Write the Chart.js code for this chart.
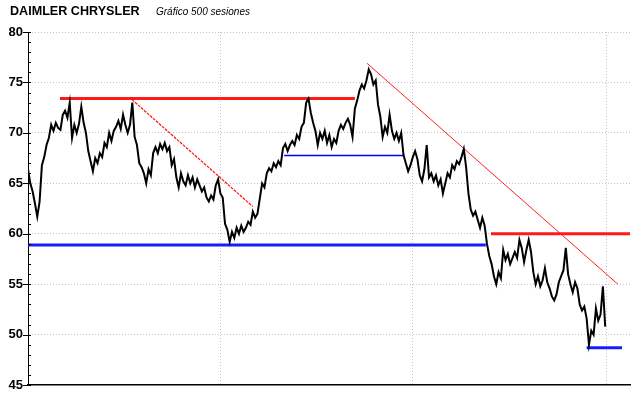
<!DOCTYPE html>
<html>
<head>
<meta charset="utf-8">
<title>Daimler Chrysler</title>
<script src="https://cdn.jsdelivr.net/npm/chart.js@4"></script>
<style>
  body { margin: 0; background: #fff; }
  #wrap { position: relative; width: 640px; height: 398px; }
  #wrap canvas { position: absolute; left: 0; top: 0; }
  .title { position: absolute; left: 10px; top: 4px; line-height: 13px; font: bold 12.6px "Liberation Sans", Arial, sans-serif; color: #000; z-index: 2; }
  .sub { position: absolute; left: 156px; top: 6px; line-height: 10px; font: italic 10px "Liberation Sans", Arial, sans-serif; color: #000; z-index: 2; }
</style>
</head>
<body>
<div id="wrap">
  <div class="title">DAIMLER CHRYSLER</div>
  <div class="sub">Gráfico 500 sesiones</div>
  <canvas id="myChart" width="640" height="398"></canvas>
</div>
<script>
"use strict";

// one value every 2 sessions (500 sessions)
const sessionStep = 2;
const prices = [
  66.4, 65.0, 64.2, 63.0, 61.7, 63.2, 66.8, 67.6, 68.8, 69.5,
  70.8, 70.2, 71.0, 70.5, 70.3, 71.8, 72.2, 71.5, 73.0, 69.5,
  70.8, 70.0, 70.9, 72.6, 71.0, 70.0, 68.2, 67.2, 66.2, 67.5,
  67.0, 68.0, 67.6, 69.0, 68.6, 70.0, 69.2, 70.2, 70.6, 71.2,
  70.4, 71.8, 70.8, 70.0, 70.8, 73.0, 69.6, 68.8, 67.0, 66.6,
  66.0, 65.0, 66.4, 65.8, 68.0, 68.6, 68.0, 68.9, 68.4, 69.0,
  68.2, 68.6, 66.8, 67.4, 65.6, 64.6, 66.0, 65.2, 64.8, 65.8,
  65.0, 65.6, 64.6, 65.4, 64.8, 64.2, 64.6, 63.6, 63.2, 63.8,
  63.4, 64.8, 65.4, 64.0, 63.6, 61.0, 60.4, 59.2, 60.2, 59.6,
  60.6, 60.0, 60.8, 60.2, 60.6, 61.2, 60.9, 62.2, 61.6, 62.0,
  63.5, 65.0, 64.6, 66.0, 66.5, 66.2, 67.0, 66.6, 67.2, 66.8,
  68.5, 68.9, 68.2, 68.8, 69.2, 68.8, 69.8, 69.4, 70.6, 71.0,
  73.0, 73.4, 72.0, 71.0, 70.2, 68.8, 70.0, 69.4, 70.2, 69.0,
  69.8, 68.6, 69.4, 69.0, 70.2, 70.8, 70.4, 71.0, 71.4, 70.8,
  69.6, 72.4, 73.2, 74.2, 74.8, 74.4, 75.2, 76.3, 75.8, 74.8,
  75.2, 72.8, 71.6, 69.6, 70.6, 70.0, 71.8, 70.2, 69.4, 70.0,
  69.2, 70.0, 67.8, 67.0, 66.2, 66.8, 67.6, 68.2, 67.4, 65.8,
  65.2, 66.4, 68.8, 65.6, 66.0, 65.2, 65.8, 64.8, 65.4, 64.0,
  65.0, 66.0, 65.6, 66.8, 66.4, 67.2, 66.9, 67.6, 68.4, 66.6,
  64.0, 62.4, 61.8, 62.2, 61.4, 60.6, 61.6, 60.8, 59.0, 57.8,
  57.0, 55.8, 55.0, 56.2, 55.6, 58.4, 57.4, 58.0, 57.0, 57.6,
  58.2, 57.6, 59.4, 58.6, 57.2, 58.4, 59.4, 58.2, 56.2, 55.0,
  55.8, 54.8, 55.4, 56.6, 55.2, 54.6, 53.8, 53.4, 54.0, 55.2,
  55.8, 56.4, 58.6, 56.0, 55.0, 54.2, 55.2, 54.6, 53.0, 52.4,
  52.8, 51.6, 49.0, 50.4, 50.0, 52.6, 51.4, 52.0, 54.8, 50.8,
];

const yTicks = [45, 50, 55, 60, 65, 70, 75, 80];
const gridSessions = [166.5, 332, 499.5];

// trend lines: [[session, value], [session, value]]
const redThickLines = [
  [[27.6, 73.4], [282, 73.4]],
  [[399.5, 60.0], [519.4, 60.0]],
];
const redDashLine = [[89.7, 73.3], [194, 62.7]];
const redTrendLine = [[292.5, 76.9], [509, 55.0]];
const blueThickLines = [
  [[0, 58.9], [395, 58.9]],
  [[482, 48.7], [512.5, 48.7]],
];
const blueThinLine = [[221, 67.75], [323.6, 67.75]];

function toPoints(line) {
  return line.map((p) => ({ x: p[0], y: p[1] }));
}

function lineDataset(line, color, width, dash) {
  return {
    type: "line",
    data: toPoints(line),
    borderColor: color,
    borderWidth: width,
    borderDash: dash || [],
    pointRadius: 0,
    tension: 0,
  };
}

const priceData = prices.map((v, i) => ({ x: i * sessionStep, y: v }));

const datasets = [
  {
    type: "line",
    data: priceData,
    borderColor: "#000",
    borderWidth: 2,
    borderJoinStyle: "miter",
    pointRadius: 0,
    tension: 0,
  },
  lineDataset(redDashLine, "#ff1010", 1.2, [3, 1]),
  lineDataset(redTrendLine, "#ff2020", 1),
  lineDataset(blueThinLine, "#0000ff", 1.5),
];
for (const l of redThickLines) datasets.push(lineDataset(l, "#ff1a1a", 3));
for (const l of blueThickLines) datasets.push(lineDataset(l, "#1a1aff", 3));

// small tick marks on the value axis (every unit, longer at labels)
const tickMarks = {
  id: "tickMarks",
  afterDraw(chart) {
    const { ctx, chartArea, scales } = chart;
    const y = scales.y;
    ctx.save();
    ctx.strokeStyle = "#000";
    ctx.lineWidth = 1;
    for (let v = yTicks[0]; v <= yTicks[yTicks.length - 1]; v++) {
      const py = Math.round(y.getPixelForValue(v)) + 0.5;
      ctx.beginPath();
      ctx.moveTo(chartArea.left - (v % 5 === 0 ? 5 : 0), py);
      ctx.lineTo(chartArea.left + 3, py);
      ctx.stroke();
    }
    ctx.restore();
  },
};

const gridColor = "rgba(200,190,205,1)";

new Chart("myChart", {
  type: "line",
  data: { datasets: datasets },
  plugins: [tickMarks],
  options: {
    responsive: false,
    animation: false,
    events: [],
    layout: { padding: { top: 32, right: 10, bottom: 11, left: 0 } },
    plugins: { legend: { display: false }, tooltip: { enabled: false } },
    scales: {
      x: {
        type: "linear",
        min: 0,
        max: 519.4,
        afterBuildTicks: (scale) => {
          scale.ticks = gridSessions.map((v) => ({ value: v }));
        },
        afterFit: (scale) => {
          scale.height = 0;
        },
        ticks: { display: false },
        grid: { color: gridColor, lineWidth: 1, drawTicks: false },
        border: { color: "#000", width: 1.5, dash: [1, 2] },
      },
      y: {
        type: "linear",
        min: yTicks[0],
        max: yTicks[yTicks.length - 1],
        afterBuildTicks: (scale) => {
          scale.ticks = yTicks.map((v) => ({ value: v }));
        },
        afterFit: (scale) => {
          scale.width = 28;
        },
        ticks: {
          padding: 5,
          color: "#000",
          font: { family: "'Liberation Sans', Arial, sans-serif", size: 13, weight: "bold" },
        },
        grid: {
          color: (c) => (c.tick && c.tick.value === yTicks[0] ? "rgba(0,0,0,0)" : gridColor),
          lineWidth: 1,
          drawTicks: false,
        },
        border: { color: "#000", width: 1, dash: [1, 2] },
      },
    },
  },
});
</script>
</body>
</html>
